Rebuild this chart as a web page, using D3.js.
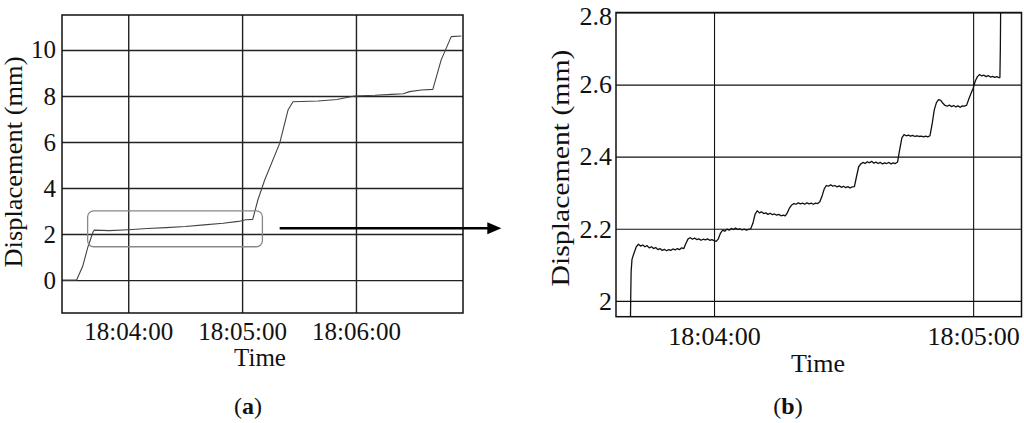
<!DOCTYPE html>
<html>
<head>
<meta charset="utf-8">
<script src="https://cdn.jsdelivr.net/npm/d3@7"></script>
<style>
  html, body { margin: 0; padding: 0; background: #fff; }
  svg { display: block; }
  text { font-family: "Liberation Serif", "Times New Roman", serif; fill: #111; }
</style>
</head>
<body>
<svg id="chart" width="1024" height="423"></svg>
<script>
// ---------- data (time in seconds relative to 18:04:00, displacement in mm) ----------
const seriesA_t = [-35, -27.2, -24, -21.2, -18.5, -17.9, -10, 0, 10, 20, 30, 40, 50, 58, 62, 65.6,
  68.3, 71.9, 79.8, 84.2, 86.8, 100, 110, 119.3, 130, 138.6, 145, 148.2, 154.4, 160.5, 164.9, 170.2, 175.5];
const seriesA_v = [0.0, 0.0, 0.6, 1.45, 2.1, 2.17, 2.15, 2.19, 2.24, 2.28, 2.33, 2.40, 2.47, 2.55, 2.62, 2.64,
  3.48, 4.35, 5.94, 7.39, 7.75, 7.78, 7.85, 8.0, 8.03, 8.07, 8.1, 8.19, 8.26, 8.29, 9.57, 10.58, 10.61];

const seriesB_t = [-19.4, -19.3, -19.2, -19.0, -18.6, -18.0, -17.5, -17.0, -16.5, -16.0, -15.5, -15.0, -14.5, -14.0,
  -13.5, -13.0, -12.5, -12.0, -11.5, -11.0, -10.5, -10.0, -9.5, -9.0, -8.5, -8.0, -7.5, -7.0, -6.5, -6.0, -5.5, -5.0,
  -4.5, -4.0, -3.5, -3.0, -2.5, -2.0, -1.5, -1.0, -0.5, 0.0, 0.5, 1.0, 1.5, 2.0, 2.5, 3.0, 3.5, 4.0, 4.5, 5.0, 5.5,
  6.0, 6.5, 7.0, 7.5, 8.0, 8.5, 9.0, 9.5, 10.0, 10.5, 11.0, 11.5, 12.0, 12.5, 13.0, 13.5, 14.0, 14.5, 15.0, 15.5,
  16.0, 16.5, 17.0, 17.5, 18.0, 18.5, 19.0, 19.5, 20.0, 20.5, 21.0, 21.5, 22.0, 22.5, 23.0, 23.5, 24.0, 24.5, 25.0,
  25.5, 26.0, 26.5, 27.0, 27.5, 28.0, 28.5, 29.0, 29.5, 30.0, 30.5, 31.0, 31.5, 32.0, 32.5, 33.0, 33.5, 34.0, 34.5,
  35.0, 35.5, 36.0, 36.5, 37.0, 37.5, 38.0, 38.5, 39.0, 39.5, 40.0, 40.5, 41.0, 41.5, 42.0, 42.5, 43.0, 43.5, 44.0,
  44.5, 45.0, 45.5, 46.0, 46.5, 47.0, 47.5, 48.0, 48.5, 49.0, 49.5, 50.0, 50.5, 51.0, 51.5, 52.0, 52.5, 53.0, 53.5,
  54.0, 54.5, 55.0, 55.5, 56.0, 56.5, 57.0, 57.5, 58.0, 58.5, 59.0, 59.5, 60.0, 60.5, 61.0, 61.5, 62.0, 62.5, 63.0,
  63.5, 64.0, 64.5, 65.0, 65.5, 66.0, 66.2, 66.3, 66.4];
const seriesB_v = [1.90, 2.00, 2.08, 2.115, 2.13, 2.15, 2.157, 2.152, 2.155, 2.150, 2.153, 2.147, 2.150, 2.145,
  2.148, 2.142, 2.145, 2.140, 2.143, 2.139, 2.142, 2.140, 2.144, 2.141, 2.145, 2.142, 2.147, 2.145, 2.160, 2.172, 2.175, 2.171,
  2.174, 2.170, 2.172, 2.168, 2.171, 2.169, 2.172, 2.168, 2.170, 2.167, 2.165, 2.172, 2.188, 2.196, 2.193, 2.199, 2.196, 2.201, 2.198, 2.202, 2.198,
  2.200, 2.197, 2.199, 2.196, 2.198, 2.200, 2.215, 2.240, 2.250, 2.244, 2.247, 2.242, 2.244, 2.240, 2.243, 2.239, 2.241, 2.238, 2.240, 2.236,
  2.238, 2.236, 2.245, 2.258, 2.266, 2.270, 2.268, 2.272, 2.269, 2.271, 2.268, 2.272, 2.269, 2.271, 2.268, 2.271, 2.270, 2.275, 2.290,
  2.310, 2.320, 2.318, 2.322, 2.318, 2.320, 2.316, 2.319, 2.315, 2.318, 2.314, 2.317, 2.313, 2.316, 2.317, 2.345, 2.372, 2.380, 2.384,
  2.381, 2.386, 2.383, 2.387, 2.382, 2.385, 2.381, 2.384, 2.380, 2.383, 2.381, 2.384, 2.380, 2.383, 2.381, 2.385, 2.420, 2.452, 2.461,
  2.458, 2.460, 2.457, 2.459, 2.456, 2.458, 2.456, 2.457, 2.455, 2.457, 2.455, 2.458, 2.490, 2.530, 2.550, 2.558, 2.556, 2.548, 2.542,
  2.540, 2.543, 2.539, 2.542, 2.538, 2.541, 2.537, 2.541, 2.540, 2.543, 2.560, 2.575, 2.590, 2.610, 2.622, 2.628, 2.624, 2.626, 2.622,
  2.625, 2.621, 2.623, 2.620, 2.622, 2.619, 2.620, 2.70, 2.85];

const xTicksA = ["18:04:00", "18:05:00", "18:06:00"];
const xTicksB = ["18:04:00", "18:05:00"];
const yTicksA = [0, 2, 4, 6, 8, 10];
const yTicksB = [2, 2.2, 2.4, 2.6, 2.8];
const xDomainA = [-34.9, 176.4];   // seconds from 18:04:00
const yDomainA = [-1.43, 11.52];
const xDomainB = [-22.7, 71.2];
const yDomainB = [1.956, 2.8];
// zoom window annotation in panel (a): [t0, t1], [v0, v1]
const zoomBoxT = [-21.4, 70.7];
const zoomBoxV = [1.45, 3.01];
const arrowT = [79.8, 196.6];
const arrowV = 2.25;
const panelLabels = ["a", "b"];

// ---------- helpers ----------
const base = new Date(2000, 0, 1, 18, 4, 0).getTime();
const toDate = s => new Date(base + s * 1000);
const parseT = d3.timeParse("%H:%M:%S");
const fmt = d3.timeFormat("%H:%M:%S");
const tickDate = str => { const p = parseT(str); return new Date(2000, 0, 1, p.getHours(), p.getMinutes(), p.getSeconds()); };

const svg = d3.select("#chart");

function panel(cfg) {
  const x = d3.scaleTime().domain(cfg.xDomain.map(toDate)).range([cfg.left, cfg.right]);
  const y = d3.scaleLinear().domain(cfg.yDomain).range([cfg.bottom, cfg.top]);
  const g = svg.append("g");
  const clipId = "clip" + cfg.name;
  svg.append("defs").append("clipPath").attr("id", clipId)
    .append("rect").attr("x", cfg.left).attr("y", cfg.top)
    .attr("width", cfg.right - cfg.left).attr("height", cfg.bottom - cfg.top);

  // grid via axes
  const xt = cfg.xTicks.map(tickDate);
  g.append("g").attr("transform", `translate(0,${cfg.bottom})`)
    .call(d3.axisBottom(x).tickValues(xt).tickFormat(fmt).tickSize(-(cfg.bottom - cfg.top)).tickPadding(cfg.xPad))
    .call(a => a.select(".domain").remove())
    .call(a => a.selectAll("line").attr("stroke", cfg.gridColor).attr("stroke-width", cfg.gridW))
    .call(a => a.selectAll("text").attr("font-size", cfg.fs).attr("fill", "#111"));

  g.append("g").attr("transform", `translate(${cfg.left},0)`)
    .call(d3.axisLeft(y).tickValues(cfg.yTicks).tickFormat(d3.format("~g")).tickSize(-(cfg.right - cfg.left)).tickPadding(cfg.yPad))
    .call(a => a.select(".domain").remove())
    .call(a => a.selectAll("line").attr("stroke", cfg.gridColor).attr("stroke-width", cfg.gridW))
    .call(a => a.selectAll("text").attr("font-size", cfg.fs).attr("fill", "#111")
      .attr("dy", d => (y(d) - cfg.top < 4 ? "0.45em" : "0.32em")));

  // data line
  const pts = cfg.t.map((t, i) => [t, cfg.v[i]]);
  g.append("path").datum(pts)
    .attr("clip-path", `url(#${clipId})`)
    .attr("fill", "none").attr("stroke", cfg.lineColor).attr("stroke-width", cfg.lineW)
    .attr("stroke-linejoin", "round")
    .attr("d", d3.line().x(d => x(toDate(d[0]))).y(d => y(d[1])));

  // frame
  g.append("rect").attr("x", cfg.left).attr("y", cfg.top)
    .attr("width", cfg.right - cfg.left).attr("height", cfg.bottom - cfg.top)
    .attr("fill", "none").attr("stroke", "#111").attr("stroke-width", 1.5);

  // axis titles
  g.append("text").attr("x", cfg.timeX).attr("y", cfg.timeY).attr("text-anchor", "middle")
    .attr("font-size", cfg.fs).text("Time");
  const yl = g.append("text")
    .attr("transform", `translate(${cfg.ylabX},${cfg.ylabY}) rotate(-90)`)
    .attr("text-anchor", "middle").attr("font-size", cfg.fs).text("Displacement (mm)");
  if (cfg.ylabLen) yl.attr("textLength", cfg.ylabLen).attr("lengthAdjust", "spacingAndGlyphs");

  // panel label
  const pl = g.append("text").attr("x", cfg.labX).attr("y", 414).attr("text-anchor", "middle")
    .attr("font-size", 24);
  pl.append("tspan").text("(");
  pl.append("tspan").attr("font-weight", "bold").text(cfg.label);
  pl.append("tspan").text(")");
  return { x, y };
}

const A = panel({
  name: "A", left: 62, right: 463, top: 15, bottom: 313,
  xDomain: xDomainA, yDomain: yDomainA, xTicks: xTicksA, yTicks: yTicksA,
  t: seriesA_t, v: seriesA_v, fs: 25, xPad: 9, yPad: 6,
  gridColor: "#222", gridW: 1.4, lineColor: "#444", lineW: 1.1,
  timeX: 260, timeY: 366, ylabX: 22, ylabY: 162, ylabLen: 211, labX: 248, label: panelLabels[0]
});

const B = panel({
  name: "B", left: 616, right: 1021.5, top: 12.5, bottom: 316.7,
  xDomain: xDomainB, yDomain: yDomainB, xTicks: xTicksB, yTicks: yTicksB,
  t: seriesB_t, v: seriesB_v, fs: 26, xPad: 10, yPad: 4,
  gridColor: "#111", gridW: 1.1, lineColor: "#111", lineW: 1.3,
  timeX: 818, timeY: 372, ylabX: 569, ylabY: 168, ylabLen: 237, labX: 788, label: panelLabels[1]
});

// zoom box annotation on panel (a)
svg.append("rect")
  .attr("x", A.x(toDate(zoomBoxT[0]))).attr("y", A.y(zoomBoxV[1]))
  .attr("width", A.x(toDate(zoomBoxT[1])) - A.x(toDate(zoomBoxT[0])))
  .attr("height", A.y(zoomBoxV[0]) - A.y(zoomBoxV[1]))
  .attr("rx", 6).attr("ry", 6)
  .attr("fill", "none").attr("stroke", "#888").attr("stroke-width", 1.3);

// arrow
const ax0 = A.x(toDate(arrowT[0])), ax1 = A.x(toDate(arrowT[1])), ay = A.y(arrowV);
svg.append("line").attr("x1", ax0).attr("x2", ax1 - 12).attr("y1", ay).attr("y2", ay)
  .attr("stroke", "#000").attr("stroke-width", 2.6);
svg.append("path")
  .attr("d", d3.line()([[ax1 - 14, ay - 6], [ax1, ay], [ax1 - 14, ay + 6]]) + "Z")
  .attr("fill", "#000");
</script>
</body>
</html>
